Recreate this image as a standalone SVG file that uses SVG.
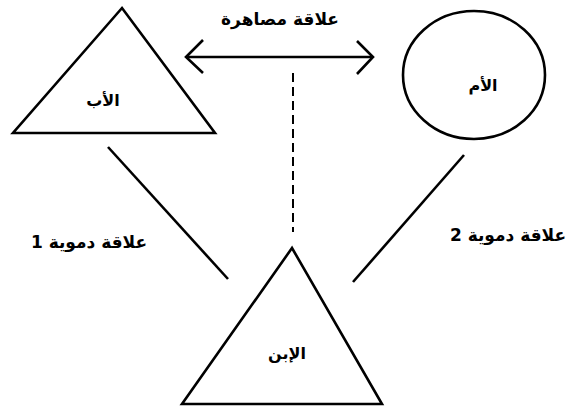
<svg xmlns="http://www.w3.org/2000/svg" width="567" height="410" viewBox="0 0 567 410">
<style>
.s{fill:none;stroke:#000;stroke-width:2.6;stroke-linejoin:miter}
.t{font-family:"DejaVu Sans","Noto Sans",sans-serif;font-weight:bold;font-size:16px;fill:#000;text-anchor:middle}
.r{font-size:17px}
</style>
<rect width="567" height="410" fill="#fff"/>
<g id="father">
<polygon class="s" points="122,8 13,133 215,133"/>
<text class="t" x="103" y="106" direction="rtl">الأب</text>
</g>
<g id="mother">
<ellipse class="s" cx="474" cy="75" rx="71" ry="64"/>
<text class="t" x="483" y="91" direction="rtl">الأم</text>
</g>
<g id="son">
<polygon class="s" points="292,248 182,404 382,404"/>
<text class="t" x="287" y="359" direction="rtl">الإبن</text>
</g>
<g id="connectors">
<line class="s" x1="186" y1="57" x2="372" y2="57"/>
<polyline class="s" points="203,40 186,57 203,73"/>
<polyline class="s" points="357,41 373,57 357,74"/>
<line class="s" x1="293" y1="73" x2="293" y2="232" stroke-dasharray="9,5" style="stroke-width:2"/>
<line class="s" x1="108" y1="147" x2="228" y2="279"/>
<line class="s" x1="464" y1="155" x2="353" y2="282"/>
</g>
<g id="labels">
<text class="t r" x="280" y="25" direction="rtl">علاقة مصاهرة</text>
<text class="t r" x="89" y="248" direction="rtl">علاقة دموية 1</text>
<text class="t r" x="508" y="241" direction="rtl">علاقة دموية 2</text>
</g>
</svg>
